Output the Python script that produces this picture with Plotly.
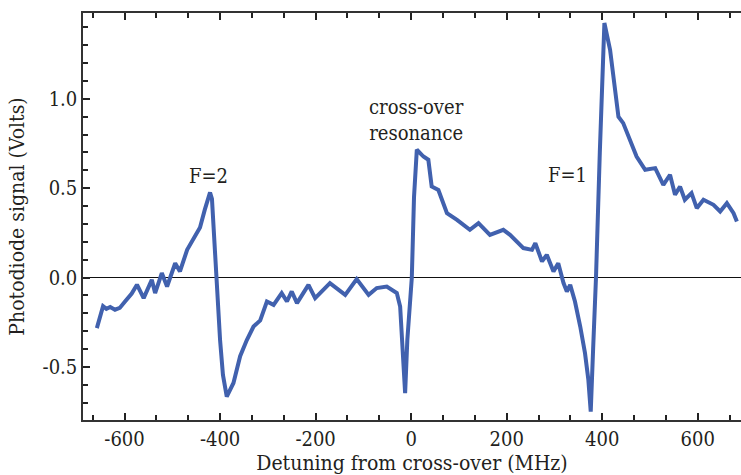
import plotly.graph_objects as go

detuning_mhz = [-658, -652, -645, -638, -630, -620, -610, -599, -585, -574, -560, -543, -536, -522, -511,
                -494, -484, -469, -455, -442, -432, -425, -421, -417, -413, -408, -400, -394, -386, -372,
                -358, -344, -330, -316, -302, -288, -271, -260, -250, -239, -215, -201, -170, -138, -114,
                -89, -72, -51, -30, -23, -17, -12.6, -8, 1.4, 6, 11.9, 25.7, 36, 43, 57, 75, 96, 123, 141,
                165, 193, 207, 235, 253, 260, 274, 284, 298, 308, 319, 326, 333, 343, 354, 364, 371, 376,
                381, 387, 395, 404.6, 416.5, 427, 434, 444, 458, 472, 490, 511, 528, 542, 552.5, 563, 573,
                587, 598, 612, 633, 647, 661, 675, 682]
signal_volts = [-0.283, -0.22, -0.16, -0.175, -0.165, -0.18, -0.17, -0.134, -0.09, -0.04, -0.115, -0.013,
                -0.087, 0.025, -0.05, 0.08, 0.034, 0.155, 0.22, 0.28, 0.38, 0.45, 0.476, 0.44, 0.25, 0.0,
                -0.35, -0.545, -0.666, -0.59, -0.44, -0.35, -0.274, -0.24, -0.134, -0.153, -0.087, -0.134,
                -0.078, -0.143, -0.041, -0.115, -0.031, -0.097, -0.009, -0.097, -0.059, -0.05, -0.087,
                -0.162, -0.4, -0.647, -0.35, 0.0, 0.45, 0.715, 0.677, 0.659, 0.509, 0.49, 0.36, 0.323,
                0.267, 0.304, 0.239, 0.267, 0.239, 0.165, 0.155, 0.192, 0.09, 0.127, 0.034, 0.08, -0.031,
                -0.078, -0.041, -0.134, -0.274, -0.423, -0.572, -0.75, -0.4, 0.0, 0.7, 1.424, 1.274, 1.069,
                0.90, 0.864, 0.77, 0.677, 0.603, 0.612, 0.519, 0.575, 0.463, 0.509, 0.435, 0.472, 0.388,
                0.435, 0.407, 0.37, 0.416, 0.36, 0.313]

x_tickvals = [-600, -400, -200, 0, 200, 400, 600]
x_ticktext = ["-600", "-400", "-200", "0", "200", "400", "600"]
y_tickvals = [-0.5, 0.0, 0.5, 1.0]
y_ticktext = ["-0.5", "0.0", "0.5", "1.0"]

labels = ["F=2", "cross-over<br>resonance", "F=1"]
label_x = [-425, 10.5, 326.5]
label_y = [0.569, 0.88, 0.574]

FONT = "DejaVu Serif Condensed, DejaVu Serif"
INK = "#231F20"

fig = go.Figure()
fig.add_trace(go.Scatter(x=detuning_mhz, y=signal_volts, mode="lines",
                         line=dict(color="#4161AE", width=4), showlegend=False))

for t, xv, yv in zip(labels, label_x, label_y):
    fig.add_annotation(x=xv, y=yv, text=t, showarrow=False,
                       font=dict(family=FONT, size=20, color=INK))

fig.update_layout(
    width=741, height=475,
    margin=dict(l=83, r=0, t=13, b=55),
    paper_bgcolor="white", plot_bgcolor="white",
    font=dict(family=FONT, color=INK, size=20),
)
fig.update_xaxes(
    range=[-687, 690.6], tickvals=x_tickvals, ticktext=x_ticktext,
    showline=True, linecolor="#333333", linewidth=1.5, mirror="allticks",
    ticks="inside", ticklen=7, tickwidth=2, tickcolor="#222222",
    minor=dict(dtick=200/3, tick0=0, ticks="inside", ticklen=5, tickwidth=2, tickcolor="#222222"),
    showgrid=False, zeroline=False,
    tickfont=dict(family=FONT, size=20, color=INK),
    title=dict(text="Detuning from cross-over (MHz)", font=dict(family=FONT, size=21, color=INK), standoff=2),
)
fig.update_yaxes(
    range=[-0.797, 1.48], tickvals=y_tickvals, ticktext=y_ticktext,
    showline=True, linecolor="#333333", linewidth=1.5, mirror=False,
    ticks="inside", ticklen=7, tickwidth=2, tickcolor="#222222",
    minor=dict(dtick=0.1, tick0=0, ticks="inside", ticklen=5, tickwidth=2, tickcolor="#222222"),
    showgrid=False, zeroline=True, zerolinecolor="#111111", zerolinewidth=1,
    tickfont=dict(family=FONT, size=20, color=INK),
    title=dict(text="Photodiode signal (Volts)", font=dict(family=FONT, size=21, color=INK), standoff=12),
)

fig.write_html("out.html")
